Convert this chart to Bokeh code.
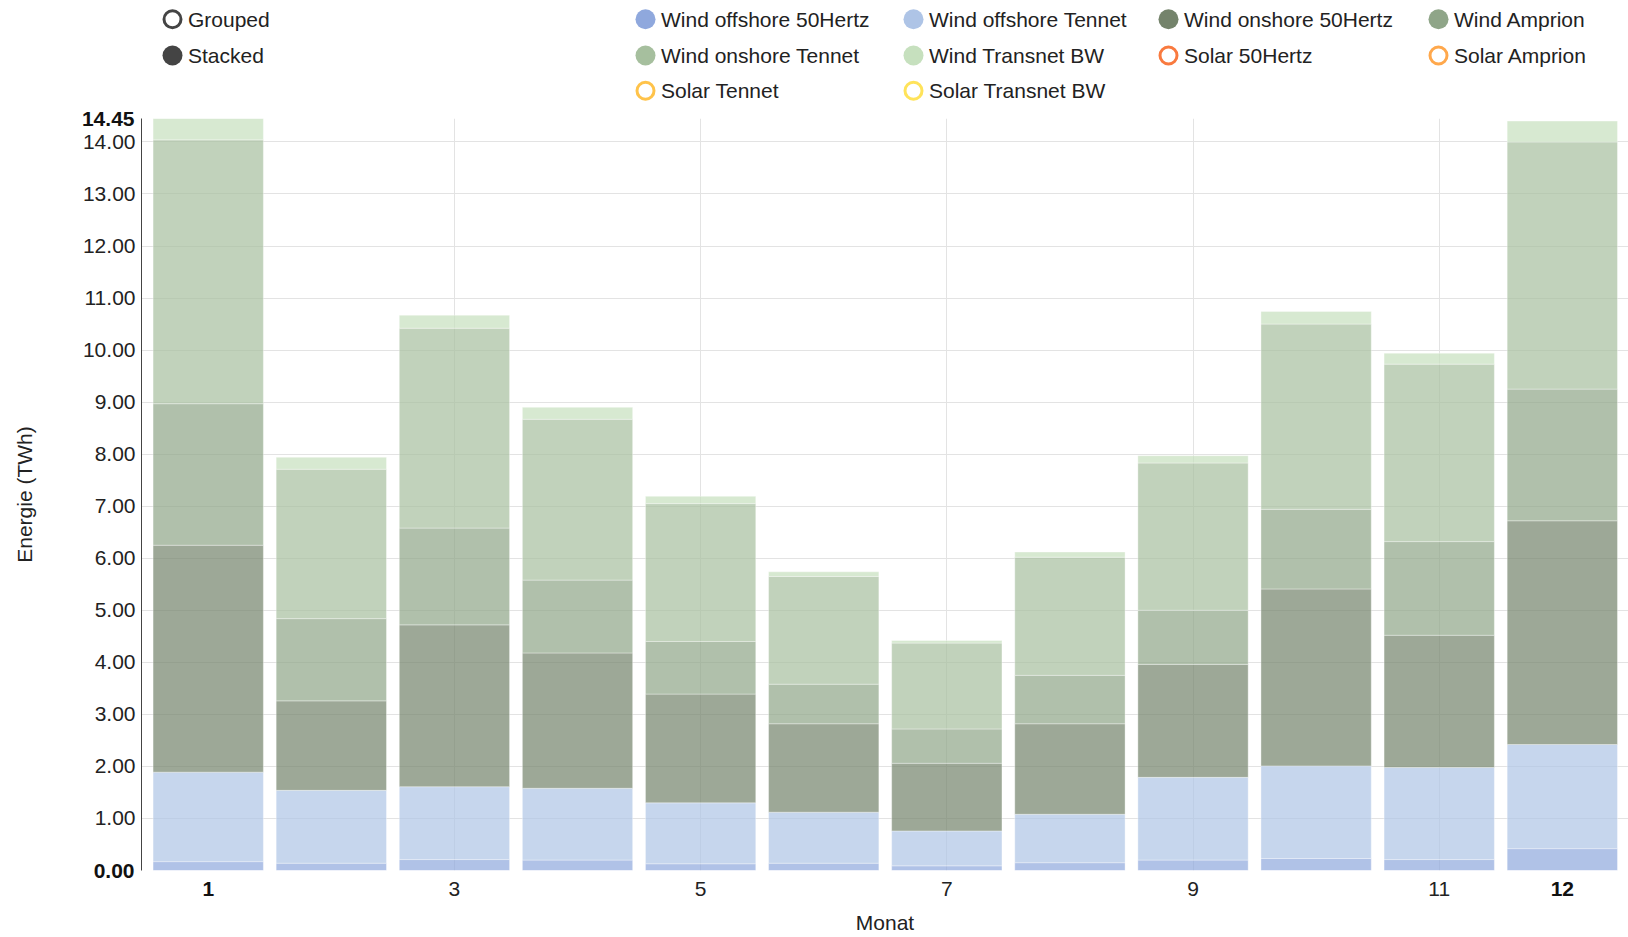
from bokeh.plotting import figure
from bokeh.models import Range1d, FixedTicker, ColumnDataSource, PrintfTickFormatter, LinearAxis
from bokeh.layouts import column
from bokeh.core.properties import value
from bokeh.embed import file_html
from bokeh.resources import INLINE

# ---------------- data ----------------
months = [1, 2, 3, 4, 5, 6, 7, 8, 9, 10, 11, 12]
wind_offshore_50hertz = [0.17, 0.14, 0.21, 0.20, 0.13, 0.14, 0.09, 0.15, 0.20, 0.23, 0.21, 0.42]
wind_offshore_tennet = [1.72, 1.40, 1.40, 1.38, 1.17, 0.98, 0.67, 0.93, 1.59, 1.78, 1.77, 2.00]
wind_onshore_50hertz = [4.36, 1.72, 3.11, 2.60, 2.09, 1.70, 1.30, 1.74, 2.17, 3.40, 2.54, 4.30]
wind_amprion = [2.72, 1.58, 1.86, 1.40, 1.01, 0.76, 0.66, 0.93, 1.04, 1.53, 1.80, 2.53]
wind_onshore_tennet = [5.07, 2.87, 3.84, 3.09, 2.65, 2.07, 1.65, 2.27, 2.83, 3.56, 3.41, 4.75]
wind_transnet_bw = [0.41, 0.23, 0.25, 0.23, 0.14, 0.09, 0.05, 0.10, 0.14, 0.24, 0.21, 0.40]

stack_names = ["Wind offshore 50Hertz", "Wind offshore Tennet", "Wind onshore 50Hertz",
               "Wind Amprion", "Wind onshore Tennet", "Wind Transnet BW"]
stack_values = [wind_offshore_50hertz, wind_offshore_tennet, wind_onshore_50hertz,
                wind_amprion, wind_onshore_tennet, wind_transnet_bw]

legend_names = ["Wind offshore 50Hertz", "Wind offshore Tennet", "Wind onshore 50Hertz", "Wind Amprion",
                "Wind onshore Tennet", "Wind Transnet BW", "Solar 50Hertz", "Solar Amprion",
                "Solar Tennet", "Solar Transnet BW"]
legend_colors = ["#8fa8dd", "#aec4e6", "#74836b", "#8fa588",
                 "#a6bf9e", "#c6e0be", "#f97a3f", "#ffa84c",
                 "#ffc34a", "#ffe35a"]
legend_visible = [True, True, True, True, True, True, False, False, False, False]
mode_names = ["Grouped", "Stacked"]
mode_selected = [False, True]

x_ticks = [3, 5, 7, 9, 11]
x_bold_ticks = [1, 12]
y_ticks = [1, 2, 3, 4, 5, 6, 7, 8, 9, 10, 11, 12, 13, 14]
y_grid_ticks = [0, 1, 2, 3, 4, 5, 6, 7, 8, 9, 10, 11, 12, 13, 14]
y_min, y_max = 0.0, 14.45
y_bold_ticks = [y_min, y_max]
x_label = "Monat"
y_label = "Energie (TWh)"

# ---------------- style ----------------
FONT = "Liberation Sans"
FS = "21px"
TXT = "#222222"
W = 1628
LEFT = 141          # left border of both frames (page px)
LH = 104            # legend strip height
CH = 937 - LH       # chart height

# ---------------- legend figure ----------------
leg = figure(width=W, height=LH, x_range=Range1d(LEFT, W), y_range=Range1d(LH, 0),
             x_axis_type=None, y_axis_type=None, toolbar_location=None,
             output_backend="svg", min_border_left=LEFT, min_border_right=0,
             min_border_top=0, min_border_bottom=0, outline_line_color=None)
leg.xgrid.visible = False
leg.ygrid.visible = False

row_y = [18.7, 55.0, 90.3]
col_x = [645, 913, 1168, 1438]
mode_x = 172

def legend_item(cx, cy, name, color, filled):
    if filled:
        leg.scatter(x=[cx], y=[cy], size=20, marker="circle", fill_color=color, line_color=None)
    else:
        leg.scatter(x=[cx], y=[cy], size=17, marker="circle", fill_color=None,
                    line_color=color, line_width=3)
    leg.text(x=[cx + 15.5], y=[cy], text=[name], text_font=value(FONT), text_font_size=FS,
             text_baseline="middle", text_align="left", text_color=TXT)

for i, (n, sel) in enumerate(zip(mode_names, mode_selected)):
    legend_item(mode_x, row_y[i], n, "#444444", sel)

for i, (n, c, vis) in enumerate(zip(legend_names, legend_colors, legend_visible)):
    legend_item(col_x[i % 4], row_y[i // 4], n, c, vis)

# ---------------- chart figure ----------------
x0 = 0.458
x1 = x0 + (W - LEFT) / 123.1
p = figure(width=W, height=CH, x_range=Range1d(x0, x1), y_range=Range1d(y_min, y_max),
           toolbar_location=None, output_backend="svg",
           min_border_left=LEFT, min_border_right=0, min_border_top=118 - LH,
           min_border_bottom=CH - (870 - LH), outline_line_color=None)

data = {"month": months}
for n, v in zip(stack_names, stack_values):
    data[n] = v
source = ColumnDataSource(data)

p.vbar_stack(stackers=stack_names, x="month", width=0.896, source=source,
             fill_color=legend_colors[:6], fill_alpha=0.7,
             line_color="white", line_alpha=0.35, line_width=1)

# grids
p.xgrid.ticker = FixedTicker(ticks=x_ticks)
p.ygrid.ticker = FixedTicker(ticks=y_grid_ticks)
p.grid.grid_line_color = "#e3e3e3"
p.grid.grid_line_width = 1

def style_axis(ax, bold=False):
    ax.major_tick_line_color = None
    ax.minor_tick_line_color = None
    ax.major_tick_out = 0
    ax.major_tick_in = 0
    ax.minor_tick_out = 0
    ax.minor_tick_in = 0
    ax.major_label_text_font = FONT
    ax.major_label_text_font_size = FS
    ax.major_label_text_color = "#111111" if bold else TXT
    ax.major_label_text_font_style = "bold" if bold else "normal"

def style_axis_label(ax, text, standoff):
    ax.axis_label = text
    ax.axis_label_standoff = standoff
    ax.axis_label_text_font = FONT
    ax.axis_label_text_font_size = FS
    ax.axis_label_text_font_style = "normal"
    ax.axis_label_text_color = TXT

# x axis (inner: normal ticks)
xa = p.xaxis[0]
xa.ticker = FixedTicker(ticks=x_ticks)
xa.axis_line_color = None
style_axis(xa)
xa.major_label_standoff = 11

# x axis (outer: bold end ticks, pulled back next to the frame) + axis label
xb = LinearAxis(ticker=FixedTicker(ticks=x_bold_ticks))
xb.axis_line_color = None
style_axis(xb, bold=True)
xb.major_label_standoff = -17
style_axis_label(xb, x_label, 12)
p.add_layout(xb, "below")

# y axis (inner: normal ticks)
ya = p.yaxis[0]
ya.ticker = FixedTicker(ticks=y_ticks)
ya.formatter = PrintfTickFormatter(format="%.2f")
ya.axis_line_color = "#444444"
ya.axis_line_width = 1
style_axis(ya)
ya.major_label_standoff = 6

# y axis (outer: bold end ticks, pulled back next to the frame) + axis label
yb = LinearAxis(ticker=FixedTicker(ticks=y_bold_ticks),
                formatter=PrintfTickFormatter(format="%.2f"))
yb.axis_line_color = None
style_axis(yb, bold=True)
yb.major_label_standoff = -55
style_axis_label(yb, y_label, 43)
p.add_layout(yb, "left")

layout = column(leg, p, spacing=0)
open("out.html", "w").write(file_html(layout, INLINE))
